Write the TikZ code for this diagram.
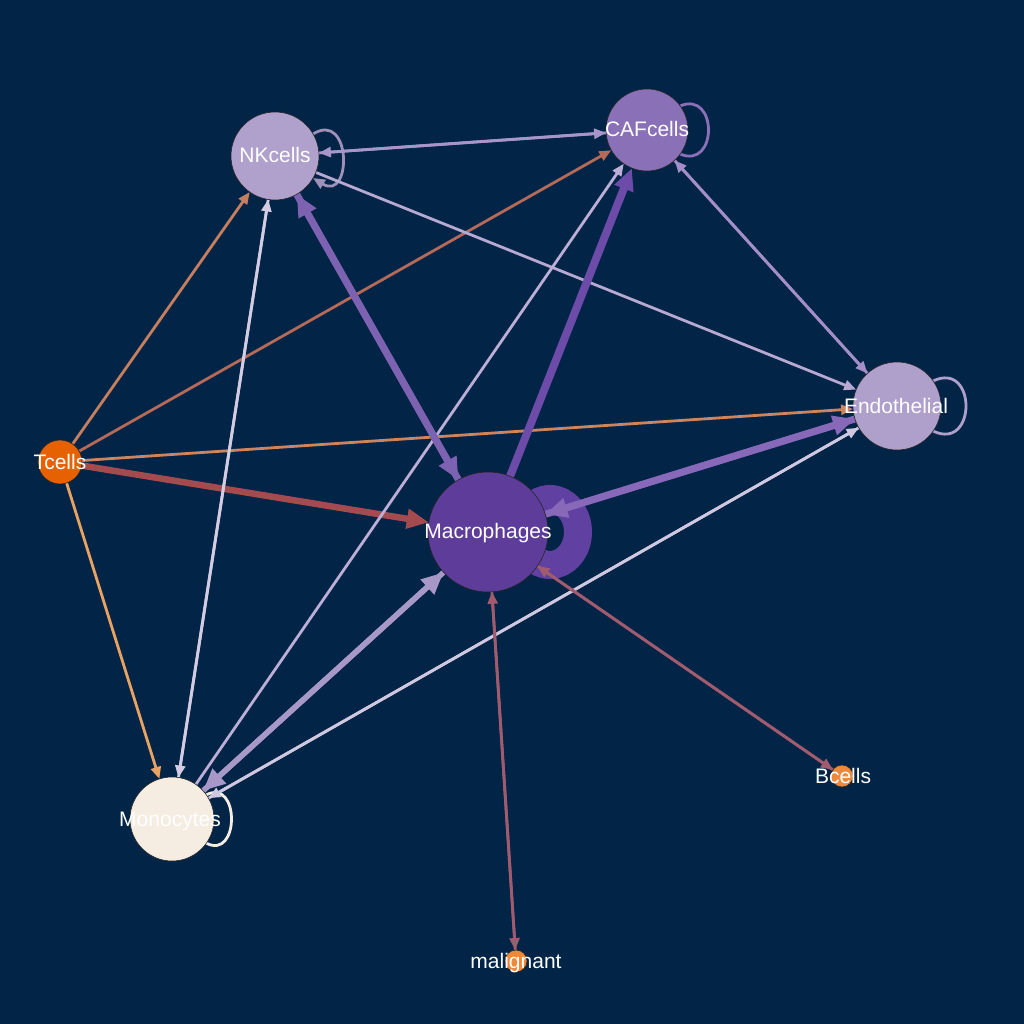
\documentclass[tikz,border=0pt]{standalone}
\usepackage{fontspec}
\setmainfont{Liberation Sans}
\usetikzlibrary{arrows.meta}
\pgfdeclarelayer{back}
\pgfdeclarelayer{edges}
\pgfsetlayers{back,edges,main}
\definecolor{bg}{HTML}{012447}
\definecolor{fNK}{HTML}{B0A0CC}
\definecolor{fCAF}{HTML}{8A70B6}
\definecolor{fEnd}{HTML}{AE9FCB}
\definecolor{fT}{HTML}{E66101}
\definecolor{fMac}{HTML}{5E3C99}
\definecolor{fMono}{HTML}{F5ECE2}
\definecolor{fSmall}{HTML}{F0883A}
\definecolor{cTN}{HTML}{C57F5E}
\definecolor{cTC}{HTML}{B56A58}
\definecolor{cTE}{HTML}{CE845C}
\definecolor{cTMo}{HTML}{E8A262}
\definecolor{cTMac}{HTML}{A34B4E}
\definecolor{cMB}{HTML}{A05C6E}
\definecolor{cNC}{HTML}{A896CA}
\definecolor{cNE}{HTML}{B7A9D2}
\definecolor{cMoN}{HTML}{D4CCE2}
\definecolor{cMoC}{HTML}{BCAED6}
\definecolor{cMoE}{HTML}{D0C8E0}
\definecolor{cMoMac}{HTML}{A898C8}
\definecolor{cNMac}{HTML}{7E62B2}
\definecolor{cMacC}{HTML}{6C4CA8}
\definecolor{cEMac}{HTML}{8868B8}
\definecolor{cCE}{HTML}{A48EC8}
\definecolor{cRing}{HTML}{6040A0}
\begin{document}
\begin{tikzpicture}[x=1pt,y=-1pt,
  cell/.style={circle,draw=black!85,line width=0.6pt,inner sep=0pt,outer sep=0pt},
  lab/.style={text=white,font=\fontsize{21}{25}\selectfont,inner sep=0pt,anchor=base},
  ethin/.style={line width=2.8pt,-{Triangle[length=12pt,width=10pt]}},
  eline/.style={line width=2.8pt},
  efat/.style={line width=#1,-{Triangle[length=22pt,width=19pt]}},
]
\begin{pgfonlayer}{back}
\fill[bg] (0,0) rectangle (1024,1024);
\end{pgfonlayer}
\useasboundingbox (0,0) rectangle (1024,1024);

% nodes
\node[cell,fill=fNK,minimum size=88pt] (NK) at (275,156) {};
\node[cell,fill=fCAF,minimum size=82pt] (CAF) at (647,130) {};
\node[cell,fill=fEnd,minimum size=88pt] (End) at (897,406) {};
\node[cell,fill=fT,minimum size=44pt] (T) at (60,462) {};
\node[cell,fill=fMac,minimum size=120pt] (Mac) at (488,532) {};
\node[cell,fill=fMono,minimum size=84pt] (Mono) at (172,819) {};
\node[cell,fill=fSmall,minimum size=22pt] (B) at (842,776) {};
\node[cell,fill=fSmall,minimum size=22pt] (Mal) at (516,961) {};

\begin{pgfonlayer}{edges}
% self loops
\draw[cRing,line width=28pt] (550,532) ellipse [x radius=28, y radius=33];
\draw[ethin,fNK!90!black] (313,134) .. controls (352,110) and (352,202) .. (313,178);
\draw[eline,fCAF] (680,106) .. controls (718,90) and (718,170) .. (680,154);
\draw[eline,fEnd] (933,381) .. controls (977,360) and (977,452) .. (933,431);
\draw[eline,fMono] (206,795) .. controls (240,777) and (240,861) .. (206,843);
% Tcells
\draw[ethin,cTN] (T) -- (NK);
\draw[ethin,cTC] (T) -- (CAF);
\draw[ethin,cTE] (T) -- (End);
\draw[ethin,cTMo] (T) -- (Mono);
\draw[efat=6.5pt,cTMac] (T) -- (Mac);
% light edges
\draw[ethin,cNC] (NK) -- (CAF);
\draw[ethin,cNC] (CAF) -- (NK);
\draw[ethin,cNE] (NK) -- (End);
\draw[ethin,cMoN] (NK) -- (Mono);
\draw[ethin,cMoN] (Mono) -- (NK);
\draw[ethin,cMoC] (Mono) -- (CAF);
\draw[ethin,cMoE] (End) -- (Mono);
\draw[ethin,cMoE] (Mono) -- (End);
\draw[ethin,cCE] (CAF) -- (End);
\draw[ethin,cCE] (End) -- (CAF);
\draw[ethin,cMB] (Mac) -- (B);
\draw[ethin,cMB] (B) -- (Mac);
\draw[ethin,cMB] (Mac) -- (Mal);
\draw[ethin,cMB] (Mal) -- (Mac);
% thick edges
\draw[efat=7pt,cNMac] (NK) -- (Mac);
\draw[efat=7pt,cNMac] (Mac) -- (NK);
\draw[efat=8pt,cMacC] (Mac) -- (CAF);
\draw[efat=7pt,cEMac] (Mac) -- (End);
\draw[efat=7pt,cEMac] (End) -- (Mac);
\draw[efat=5.5pt,cMoMac] (Mono) -- (Mac);
\draw[efat=5.5pt,cMoMac] (Mac) -- (Mono);
\end{pgfonlayer}

% labels
\node[lab] (NKl) at (275,163) {NKcells};
\node[lab] (CAFl) at (647,137) {CAFcells};
\node[lab] (Endl) at (896,413) {Endothelial};
\node[lab] (Tl) at (60,469) {Tcells};
\node[lab] (Macl) at (488,538) {Macrophages};
\node[lab] (Monol) at (170,826) {Monocytes};
\node[lab] (Bl) at (843,783) {Bcells};
\node[lab] (Mall) at (516,968) {malignant};
\end{tikzpicture}
\end{document}
